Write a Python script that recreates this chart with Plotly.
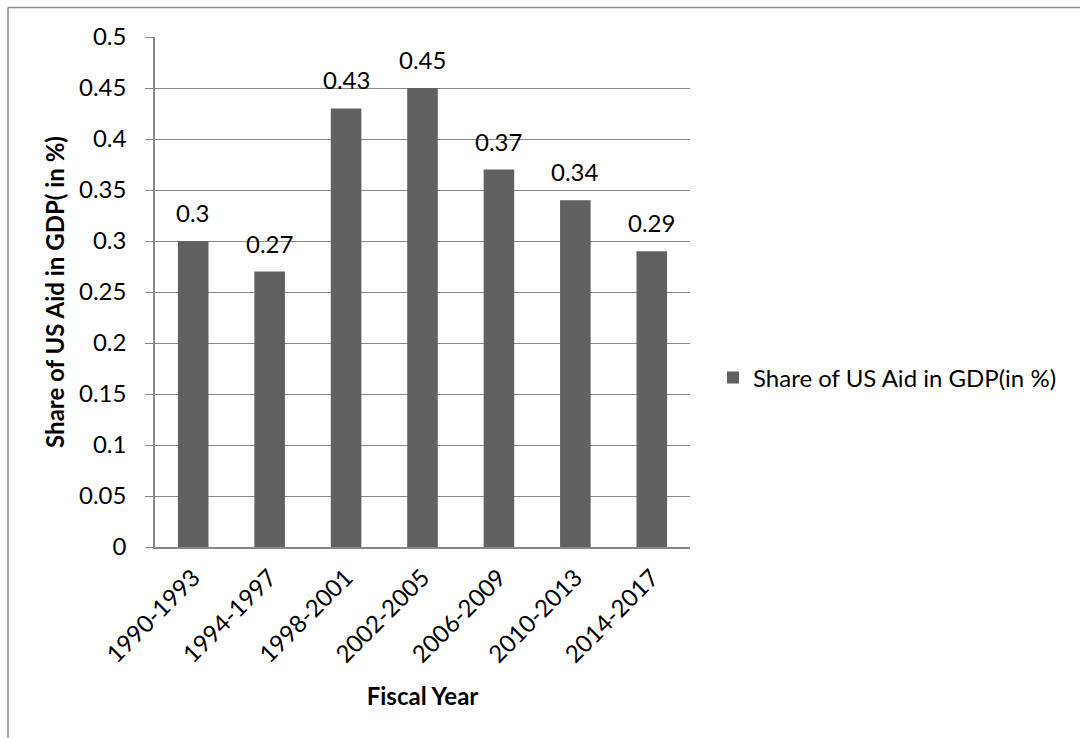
import plotly.graph_objects as go

periods = ["1990-1993", "1994-1997", "1998-2001", "2002-2005",
           "2006-2009", "2010-2013", "2014-2017"]
aid_share = [0.3, 0.27, 0.43, 0.45, 0.37, 0.34, 0.29]
y_ticks = [0, 0.05, 0.1, 0.15, 0.2, 0.25, 0.3, 0.35, 0.4, 0.45, 0.5]
y_tick_text = ["0", "0.05", "0.1", "0.15", "0.2", "0.25", "0.3",
               "0.35", "0.4", "0.45", "0.5"]

FONT = "Lato, Calibri, sans-serif"
FS = 24
BAR = "#616161"
GRID = "#888888"

# page geometry in pixels
W, H = 1080, 738
ML, MR, MT, MB = 155, 390, 37, 191
PW, PH = W - ML - MR, H - MT - MB

def px_x(x):
    return (x - ML) / PW

def px_y(y):
    return (H - MB - y) / PH

fig = go.Figure()
fig.add_trace(go.Bar(
    x=periods,
    y=aid_share,
    name="Share of US Aid in GDP(in %)",
    marker=dict(color=BAR, line=dict(width=0)),
))

# value labels above each bar
for p, v in zip(periods, aid_share):
    fig.add_annotation(
        x=p, y=v, xref="x", yref="y",
        text=f"{v:g}", showarrow=False,
        yanchor="bottom", yshift=12,
        font=dict(family=FONT, size=FS, color="#000000"),
    )

# frame along the top and left edge of the chart area
frame = dict(type="line", xref="paper", yref="paper",
             line=dict(color="#8c8c8c", width=1.5))
fig.add_shape(x0=px_x(8), x1=px_x(W + 5), y0=px_y(7.5), y1=px_y(7.5), **frame)
fig.add_shape(x0=px_x(8), x1=px_x(8), y0=px_y(7.5), y1=px_y(H + 5), **frame)

fig.update_layout(
    width=W, height=H,
    margin=dict(l=ML, r=MR, t=MT, b=MB, pad=0),
    paper_bgcolor="white",
    plot_bgcolor="white",
    font=dict(family=FONT, size=FS, color="#000000"),
    bargap=0.6,
    showlegend=True,
    legend=dict(
        x=px_x(713), y=px_y(378), xanchor="left", yanchor="middle",
        font=dict(family=FONT, size=FS, color="#000000"),
        itemwidth=30, bgcolor="rgba(0,0,0,0)",
    ),
    xaxis=dict(
        type="category",
        tickangle=-45,
        showline=True, linecolor=GRID, linewidth=2,
        showgrid=False,
        ticks="",
        ticklabelstandoff=5,
        tickfont=dict(family=FONT, size=FS),
        title=dict(text="<b>Fiscal Year</b>", font=dict(family=FONT, size=FS),
                   standoff=21),
    ),
    yaxis=dict(
        range=[0, 0.5],
        tickvals=y_ticks, ticktext=y_tick_text,
        showgrid=True, gridcolor=GRID, gridwidth=1,
        showline=True, linecolor=GRID, linewidth=1.5,
        ticks="outside", ticklen=8, tickcolor=GRID,
        ticklabelstandoff=14,
        tickfont=dict(family=FONT, size=FS),
        zeroline=False,
        title=dict(text="<b>Share of US Aid in GDP( in %)</b>",
                   font=dict(family=FONT, size=FS), standoff=8),
    ),
)

fig.write_html("out.html")
